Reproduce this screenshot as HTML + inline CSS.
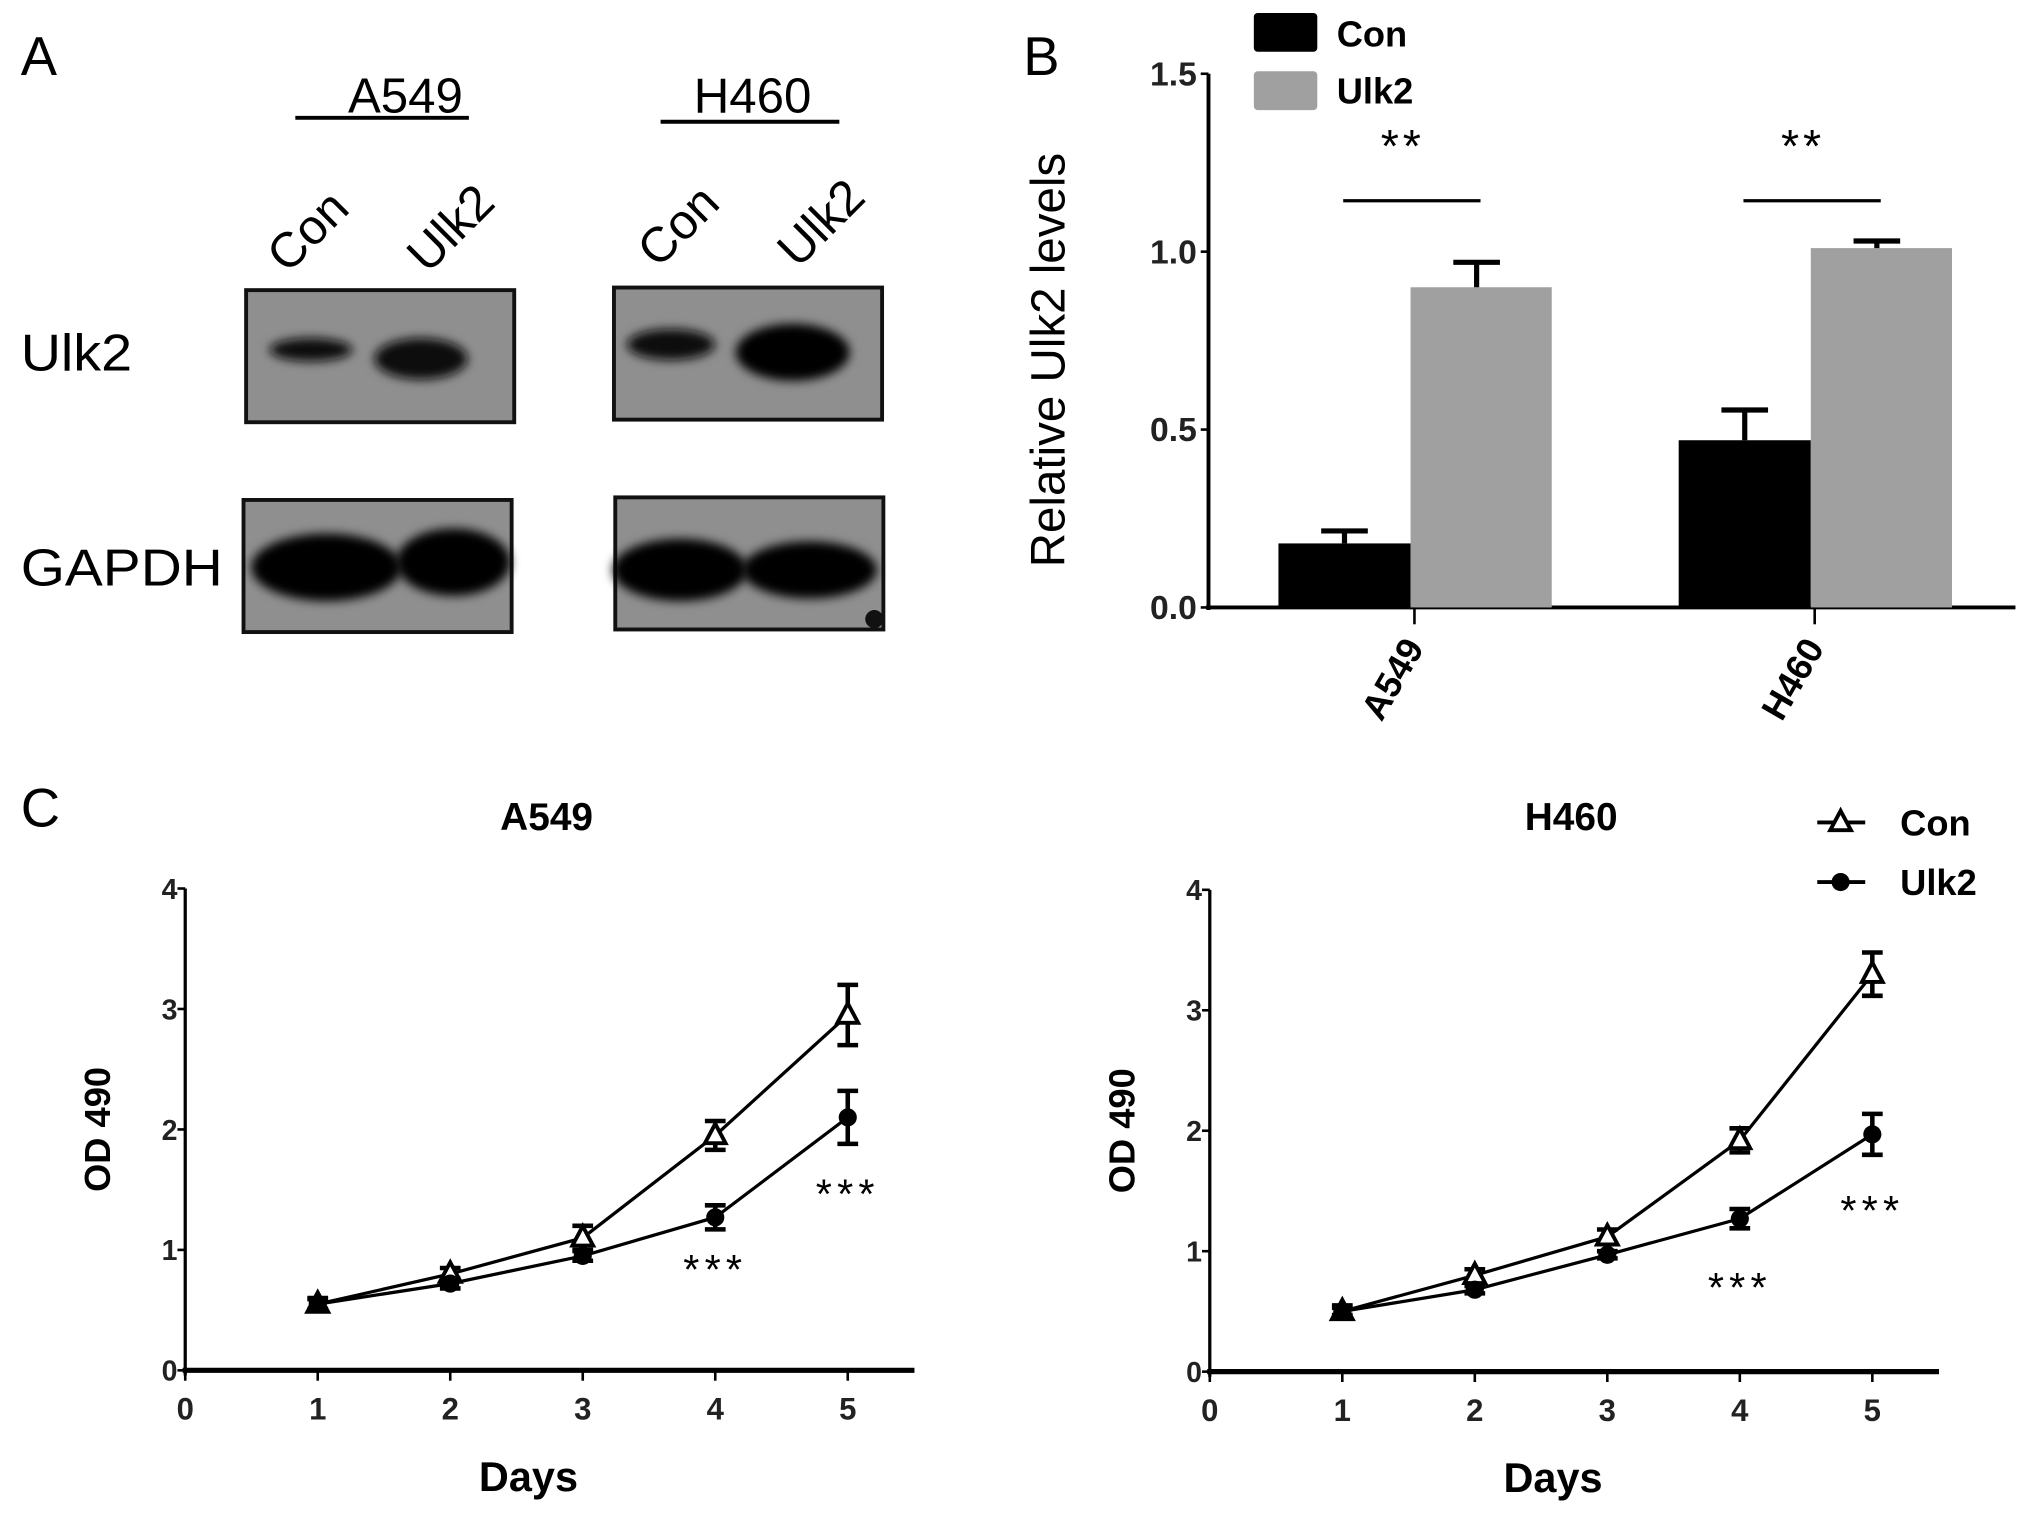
<!DOCTYPE html>
<html><head><meta charset="utf-8"><style>
html,body{margin:0;padding:0;background:#fff;}
svg{display:block;}
text{font-family:"Liberation Sans",Arial,sans-serif;}
</style></head><body>
<svg id="fig" width="2031" height="1518" viewBox="0 0 1568 1172" preserveAspectRatio="none" xmlns="http://www.w3.org/2000/svg">
<defs><filter id="blur" x="-20%" y="-50%" width="140%" height="200%"><feGaussianBlur stdDeviation="4"/></filter></defs>
<!-- Panel A -->
<g>
<text x="16" y="58" font-size="42">A</text>
<text x="313" y="87" font-size="38" text-anchor="middle">A549</text>
<line x1="228" y1="91" x2="362" y2="91" stroke="#000" stroke-width="3"/>
<text x="581" y="87" font-size="38" text-anchor="middle">H460</text>
<line x1="510" y1="94" x2="648" y2="94" stroke="#000" stroke-width="3"/>
<text transform="translate(222,212) rotate(-45)" font-size="38">Con</text>
<text transform="translate(330,212) rotate(-45)" font-size="38">Ulk2</text>
<text transform="translate(508,208) rotate(-45)" font-size="38">Con</text>
<text transform="translate(616,208) rotate(-45)" font-size="38">Ulk2</text>
<text x="16" y="286" font-size="40" textLength="86" lengthAdjust="spacingAndGlyphs">Ulk2</text>
<text x="16" y="452" font-size="40" textLength="156" lengthAdjust="spacingAndGlyphs">GAPDH</text>
<g>
<rect x="190" y="224" width="207" height="102" fill="#8f8f8f" stroke="#111" stroke-width="3"/>
<ellipse cx="240" cy="270" rx="32" ry="9" fill="#111" filter="url(#blur)"/>
<ellipse cx="325" cy="277" rx="36" ry="16" fill="#0a0a0a" filter="url(#blur)"/>
</g>
<g>
<rect x="474" y="222" width="207" height="102" fill="#8f8f8f" stroke="#111" stroke-width="3"/>
<ellipse cx="518" cy="266" rx="34" ry="12" fill="#0a0a0a" filter="url(#blur)"/>
<ellipse cx="612" cy="272" rx="44" ry="22" fill="#050505" filter="url(#blur)"/>
</g>
<g>
<rect x="188" y="386" width="207" height="102" fill="#8f8f8f" stroke="#111" stroke-width="3"/>
<ellipse cx="252" cy="438" rx="58" ry="26" fill="#050505" filter="url(#blur)"/>
<ellipse cx="350" cy="434" rx="44" ry="26" fill="#050505" filter="url(#blur)"/>
</g>
<g>
<rect x="475" y="384" width="207" height="102" fill="#8f8f8f" stroke="#111" stroke-width="3"/>
<ellipse cx="525" cy="440" rx="52" ry="24" fill="#050505" filter="url(#blur)"/>
<ellipse cx="625" cy="440" rx="52" ry="22" fill="#050505" filter="url(#blur)"/>
<circle cx="675" cy="478" r="7" fill="#111"/>
</g>
</g>
<!-- Panel B -->
<g id="panelB">
<text x="790" y="58" font-size="42">B</text>
<text transform="translate(822,278) rotate(-90)" font-size="37" text-anchor="middle" textLength="320" lengthAdjust="spacingAndGlyphs">Relative Ulk2 levels</text>
</g>
<!-- Panel C -->
<g id="panelC">
<text x="16" y="638" font-size="42">C</text>
</g>
<script>
const NS='http://www.w3.org/2000/svg';
// Panel B data
const barCategories=['A549','H460'];
const barConValues=[0.18,0.47];
const barConErr=[0.035,0.085];
const barUlk2Values=[0.90,1.01];
const barUlk2Err=[0.07,0.02];
const barYTicks=[0.0,0.5,1.0,1.5];
const barYTickLabels=['0.0','0.5','1.0','1.5'];
const barSig=['**','**'];
// Panel C data
const days=[1,2,3,4,5];
const dayTicks=[0,1,2,3,4,5];
const odTicks=[0,1,2,3,4];
const a549Con=[0.55,0.80,1.10,1.95,2.95];
const a549ConErr=[0.05,0.05,0.10,0.12,0.25];
const a549Ulk2=[0.55,0.72,0.95,1.27,2.10];
const a549Ulk2Err=[0.04,0.04,0.04,0.10,0.22];
const h460Con=[0.50,0.80,1.12,1.92,3.30];
const h460ConErr=[0.05,0.05,0.06,0.10,0.18];
const h460Ulk2=[0.50,0.68,0.97,1.27,1.97];
const h460Ulk2Err=[0.03,0.03,0.03,0.08,0.17];
const a549Stars=['','','','***','***'];
const h460Stars=['','','','***','***'];

function mk(tag,attrs,parent,txt){const e=document.createElementNS(NS,tag);for(const k in attrs)e.setAttribute(k,attrs[k]);if(txt!==undefined)e.textContent=txt;parent.appendChild(e);return e;}

// ---- Panel B
const pB=document.getElementById('panelB');
const by=v=>469-v*274.7;
const groupX=[987,1296], bw=102;
let ax=mk('line',{x1:933,y1:by(1.5),x2:933,y2:471,stroke:'#000','stroke-width':3},pB);


ax=mk('line',{x1:931,y1:469,x2:1556,y2:469,stroke:'#000','stroke-width':3},pB);


barYTicks.forEach((t,i)=>{
  let l=mk('line',{x1:927,y1:by(t),x2:933,y2:by(t),stroke:'#000','stroke-width':2},pB);
  
  
  let tx=mk('text',{x:924,y:by(t)+9,'font-size':26,'font-weight':'bold','text-anchor':'end',fill:'#222'},pB,barYTickLabels[i]);
  
  
});
barCategories.forEach((c,i)=>{
  const x0=groupX[i];
  const drawBar=(x,v,e,fill,name)=>{
    let r=mk('rect',{x:x,y:by(v),width:bw+(name.includes('ulk2')?7:0),height:469-by(v),fill:fill},pB);
    
    
    const cx=x+(bw)/2;
    let eb=mk('path',{d:`M${cx},${by(v)} V${by(v+e)} M${cx-18},${by(v+e)} H${cx+18}`,stroke:'#000','stroke-width':4,fill:'none'},pB);
    
    
  };
  drawBar(x0,barConValues[i],barConErr[i],'#000','bar-con-'+c.toLowerCase());
  drawBar(x0+bw,barUlk2Values[i],barUlk2Err[i],'#a0a0a0','bar-ulk2-'+c.toLowerCase());
  const cx=x0+bw+3;
  let tk=mk('line',{x1:cx,y1:469,x2:cx,y2:482,stroke:'#000','stroke-width':2},pB);
  
  
  let lb=mk('text',{transform:`translate(${cx+8},${500}) rotate(-60)`,'font-size':28,'font-weight':'bold','text-anchor':'end'},pB,c);
  
  
  let sl=mk('line',{x1:x0+50,y1:155,x2:x0+156,y2:155,stroke:'#000','stroke-width':2.5},pB);
  
  
  let st=mk('text',{x:x0+96,y:125,'font-size':36,'text-anchor':'middle','letter-spacing':'3'},pB,barSig[i]);
  
  
});
let lg=mk('rect',{x:968,y:10,width:49,height:30,fill:'#000',rx:3},pB);


lg=mk('text',{x:1032,y:36,'font-size':28,'font-weight':'bold'},pB,'Con');


lg=mk('rect',{x:968,y:55,width:49,height:30,fill:'#a0a0a0',rx:3},pB);


lg=mk('text',{x:1032,y:80,'font-size':28,'font-weight':'bold'},pB,'Ulk2');



// ---- Panel C
const pC=document.getElementById('panelC');
function lineChart(ox,y0,xEnd,title,con,conE,ulk,ulkE,stars,starDy,id){
  const g=mk('g',{},pC);
  
  
  const xs=d=>ox+d*102.3, ys=v=>y0-v*93;
  let t=mk('text',{x:ox+279,y:641,'font-size':30,'font-weight':'bold','text-anchor':'middle'},g,title);
  
  
  let a=mk('line',{x1:ox,y1:ys(4),x2:ox,y2:y0+4,stroke:'#000','stroke-width':2.5},g);
  
  
  a=mk('line',{x1:ox-2,y1:y0,x2:xEnd,y2:y0,stroke:'#000','stroke-width':4},g);
  
  
  odTicks.forEach(v=>{
    let l=mk('line',{x1:ox-6,y1:ys(v),x2:ox,y2:ys(v),stroke:'#000','stroke-width':2},g);
    
    
    let tx=mk('text',{x:ox-6,y:ys(v)+8,'font-size':22,'font-weight':'bold','text-anchor':'end',fill:'#222'},g,String(v));
    
    
  });
  dayTicks.forEach(d=>{
    let l=mk('line',{x1:xs(d),y1:y0,x2:xs(d),y2:y0+8,stroke:'#000','stroke-width':2},g);
    
    
    let tx=mk('text',{x:xs(d),y:y0+38,'font-size':24,'font-weight':'bold','text-anchor':'middle',fill:'#222'},g,String(d));
    
    
  });
  let xl=mk('text',{x:ox+265,y:y0+93,'font-size':32,'font-weight':'bold','text-anchor':'middle'},g,'Days');
  
  
  let yl=mk('text',{transform:`translate(${ox-58},${ys(2)}) rotate(-90)`,'font-size':28,'font-weight':'bold','text-anchor':'middle'},g,'OD 490');
  
  
  const series=(vals,errs,kind)=>{
    let p=mk('polyline',{points:days.map((d,i)=>xs(d)+','+ys(vals[i])).join(' '),fill:'none',stroke:'#000','stroke-width':2.5},g);
    
    
    days.forEach((d,i)=>{
      const x=xs(d),y=ys(vals[i]),e=errs[i];
      let eb=mk('path',{d:`M${x},${ys(vals[i]-e)} V${ys(vals[i]+e)} M${x-8},${ys(vals[i]-e)} H${x+8} M${x-8},${ys(vals[i]+e)} H${x+8}`,stroke:'#000','stroke-width':3.5,fill:'none'},g);
      
      
      let m;
      if(kind==='con') m=mk('path',{d:`M${x},${y-9} L${x+8},${y+6} L${x-8},${y+6} Z`,fill:'#fff',stroke:'#000','stroke-width':3},g);
      else m=mk('circle',{cx:x,cy:y,r:7,fill:'#000'},g);
      
      
    });
  };
  series(con,conE,'con');
  series(ulk,ulkE,'ulk2');
  days.forEach((d,i)=>{
    if(!stars[i])return;
    let s=mk('text',{x:xs(d),y:ys(ulk[i]-ulkE[i])+starDy[i],'font-size':32,'text-anchor':'middle','letter-spacing':'4'},g,stars[i]);
    
    
  });
}
lineChart(143,1058,706,'A549',a549Con,a549ConErr,a549Ulk2,a549Ulk2Err,a549Stars,[0,0,0,42,50],'a549');
lineChart(934,1059,1497,'H460',h460Con,h460ConErr,h460Ulk2,h460Ulk2Err,h460Stars,[0,0,0,57,54],'h460');
// legend C
let lc=mk('line',{x1:1403,y1:635,x2:1440,y2:635,stroke:'#000','stroke-width':3},pC);


lc=mk('path',{d:'M1421,626 L1429,641 L1413,641 Z',fill:'#fff',stroke:'#000','stroke-width':3},pC);


lc=mk('text',{x:1467,y:645,'font-size':28,'font-weight':'bold'},pC,'Con');


lc=mk('line',{x1:1403,y1:681,x2:1440,y2:681,stroke:'#000','stroke-width':3},pC);


lc=mk('circle',{cx:1421,cy:681,r:7,fill:'#000'},pC);


lc=mk('text',{x:1467,y:691,'font-size':28,'font-weight':'bold'},pC,'Ulk2');


</script>
</svg>
</body></html>
